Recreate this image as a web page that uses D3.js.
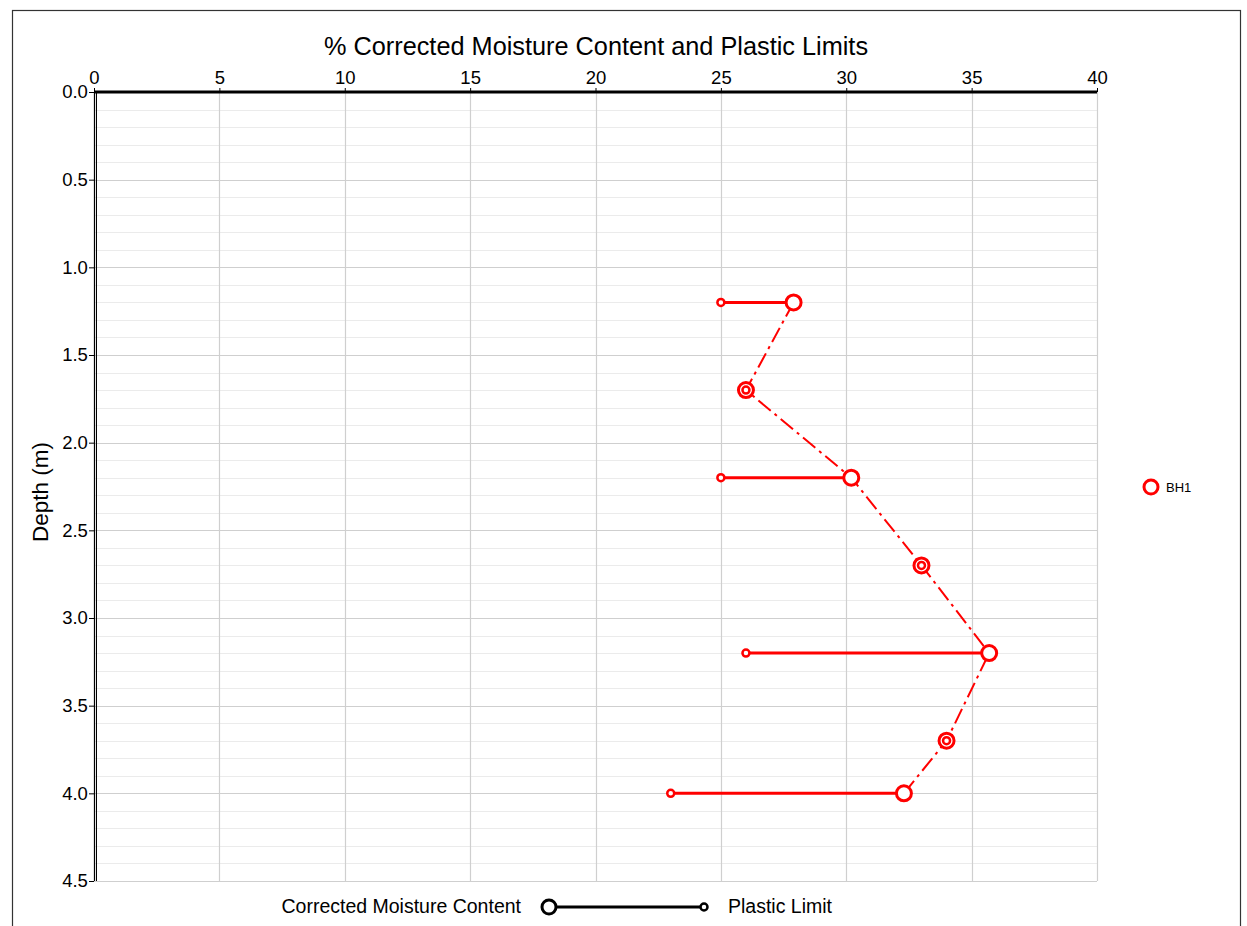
<!DOCTYPE html>
<html>
<head>
<meta charset="utf-8">
<script src="https://cdn.jsdelivr.net/npm/d3@7"></script>
<style>
  body { margin: 0; background: #fff; }
  svg { font-family: "Liberation Sans", Arial, sans-serif; }
</style>
</head>
<body>
<script>
// data
var depths = [1.2, 1.7, 2.2, 2.7, 3.2, 3.7, 4.0];
var moisture = [27.9, 26.0, 30.2, 33.0, 35.7, 34.0, 32.3];
var plasticLimit = [25.0, 26.0, 25.0, 33.0, 26.0, 34.0, 23.0];
var xTicks = [0, 5, 10, 15, 20, 25, 30, 35, 40];
var yTicks = [0, 0.5, 1.0, 1.5, 2.0, 2.5, 3.0, 3.5, 4.0, 4.5];
var seriesName = "BH1";

var W = 1247, H = 926;
var margin = {top: 92, left: 94, right: 150, bottom: 45};
var w = 1097 - margin.left;
var h = 881 - margin.top;

var svg = d3.select("body").append("svg")
  .attr("width", W).attr("height", H);

// outer frame
svg.append("rect")
  .attr("x", 12.5).attr("y", 10.5)
  .attr("width", 1228).attr("height", 940)
  .attr("fill", "none").attr("stroke", "#333").attr("stroke-width", 1.2);

var g = svg.append("g")
  .attr("transform", "translate(" + margin.left + "," + margin.top + ")");

var x = d3.scaleLinear().domain([0, 40]).range([0, w]);
var y = d3.scaleLinear().domain([0, 4.5]).range([0, h]);

// minor horizontal grid
g.append("g").selectAll("line")
  .data(d3.range(0, 46).map(function(i) { return i / 10; }))
  .enter().append("line")
  .attr("x1", 0).attr("x2", w)
  .attr("y1", function(d) { return Math.round(y(d)) + 0.5; })
  .attr("y2", function(d) { return Math.round(y(d)) + 0.5; })
  .attr("stroke", "#ebebeb").attr("stroke-width", 1);

// major grid
g.append("g").selectAll("line")
  .data(yTicks)
  .enter().append("line")
  .attr("x1", 0).attr("x2", w)
  .attr("y1", function(d) { return Math.round(y(d)) + 0.5; })
  .attr("y2", function(d) { return Math.round(y(d)) + 0.5; })
  .attr("stroke", "#cfcfcf").attr("stroke-width", 1.2);

g.append("g").selectAll("line")
  .data(xTicks)
  .enter().append("line")
  .attr("x1", function(d) { return Math.round(x(d)) + 0.5; })
  .attr("x2", function(d) { return Math.round(x(d)) + 0.5; })
  .attr("y1", 0).attr("y2", h)
  .attr("stroke", "#cfcfcf").attr("stroke-width", 1.2);

// axes
var xAxis = d3.axisTop(x).tickValues(xTicks).tickSize(4).tickFormat(d3.format("d"));
var xg = g.append("g").call(xAxis);
xg.select(".domain").remove();
xg.selectAll("text").attr("font-size", 18.5).attr("fill", "#000").attr("dy", "-0.05em");

var yAxis = d3.axisLeft(y).tickValues(yTicks).tickSize(5).tickFormat(d3.format(".1f"));
var yg = g.append("g").call(yAxis);
yg.select(".domain").remove();
yg.selectAll("text").attr("font-size", 18.5).attr("fill", "#000").attr("dx", "0.1em");

g.append("line")
  .attr("x1", 0.5).attr("x2", 0.5).attr("y1", 0).attr("y2", h)
  .attr("stroke", "#000").attr("stroke-width", 1.2);
g.append("line")
  .attr("x1", 2.5).attr("x2", 2.5).attr("y1", 0).attr("y2", h)
  .attr("stroke", "#000").attr("stroke-width", 1);
g.append("line")
  .attr("x1", 0).attr("x2", w).attr("y1", 0).attr("y2", 0)
  .attr("stroke", "#000").attr("stroke-width", 3);

// titles
svg.append("text")
  .attr("x", 596).attr("y", 55)
  .attr("text-anchor", "middle").attr("font-size", 25.3)
  .text("% Corrected Moisture Content and Plastic Limits");

svg.append("text")
  .attr("transform", "translate(48," + 492 + ") rotate(-90)")
  .attr("text-anchor", "middle").attr("font-size", 22.5)
  .text("Depth (m)");

// data
var pts = depths.map(function(d, i) {
  return {depth: d, mc: moisture[i], pl: plasticLimit[i]};
});

g.append("path")
  .datum(pts)
  .attr("fill", "none")
  .attr("stroke", "red").attr("stroke-width", 2)
  .attr("stroke-dasharray", "16,5,3,5")
  .attr("d", d3.line().x(function(d) { return x(d.mc); }).y(function(d) { return y(d.depth); }));

g.selectAll(".pl-line")
  .data(pts).enter().append("line")
  .attr("class", "pl-line")
  .attr("x1", function(d) { return x(d.pl); })
  .attr("x2", function(d) { return x(d.mc); })
  .attr("y1", function(d) { return y(d.depth); })
  .attr("y2", function(d) { return y(d.depth); })
  .attr("stroke", "red").attr("stroke-width", 3);

g.selectAll(".mc")
  .data(pts).enter().append("circle")
  .attr("class", "mc")
  .attr("cx", function(d) { return x(d.mc); })
  .attr("cy", function(d) { return y(d.depth); })
  .attr("r", 7.5)
  .attr("fill", "white").attr("stroke", "red").attr("stroke-width", 3);

g.selectAll(".pl")
  .data(pts).enter().append("circle")
  .attr("class", "pl")
  .attr("cx", function(d) { return x(d.pl); })
  .attr("cy", function(d) { return y(d.depth); })
  .attr("r", 3.5)
  .attr("fill", "white").attr("stroke", "red").attr("stroke-width", 2.5);

// series legend
svg.append("circle")
  .attr("cx", 1151).attr("cy", 487).attr("r", 7)
  .attr("fill", "white").attr("stroke", "red").attr("stroke-width", 3);
svg.append("text")
  .attr("x", 1166).attr("y", 492).attr("font-size", 13)
  .text(seriesName);

// key legend
svg.append("text")
  .attr("x", 521).attr("y", 913).attr("text-anchor", "end").attr("font-size", 19.5)
  .text("Corrected Moisture Content");
svg.append("line")
  .attr("x1", 549).attr("x2", 704).attr("y1", 907).attr("y2", 907)
  .attr("stroke", "#000").attr("stroke-width", 3);
svg.append("circle")
  .attr("cx", 549).attr("cy", 907).attr("r", 7)
  .attr("fill", "white").attr("stroke", "#000").attr("stroke-width", 3);
svg.append("circle")
  .attr("cx", 704).attr("cy", 907).attr("r", 3.5)
  .attr("fill", "white").attr("stroke", "#000").attr("stroke-width", 2.5);
svg.append("text")
  .attr("x", 728).attr("y", 913).attr("font-size", 19.5)
  .text("Plastic Limit");
</script>
</body>
</html>
